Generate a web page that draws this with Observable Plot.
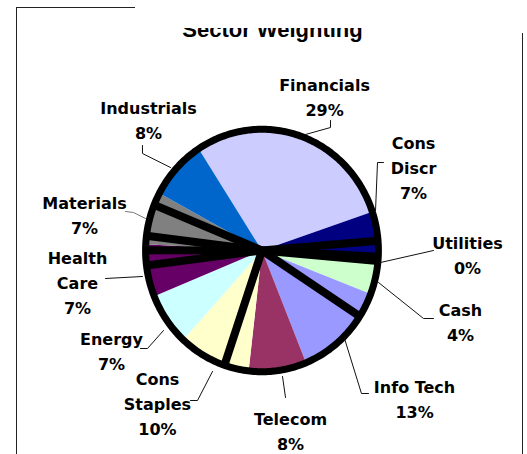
<!DOCTYPE html>
<html>
<head>
<meta charset="utf-8">
<script src="https://cdn.jsdelivr.net/npm/d3@7"></script>
<script src="https://cdn.jsdelivr.net/npm/@observablehq/plot@0.6"></script>
<style>
  html, body { margin: 0; padding: 0; background: #fff; }
  #wrap { position: relative; width: 527px; height: 454px; overflow: hidden; }
  #chart { position: absolute; left: 0; top: 0; }
  .bl { position: absolute; background: #222; }
  #titleClip { position: absolute; left: 0; top: 28px; width: 527px; height: 16px; overflow: hidden; }
  #title { position: absolute; left: 9px; top: -11px; width: 527px; text-align: center;
           font: bold 22px/26px "Liberation Sans", Arial, sans-serif; color: #000; white-space: nowrap; }
</style>
</head>
<body>
<div id="wrap">
  <div id="chart"></div>
  <div id="titleClip"><div id="title">Sector Weighting</div></div>
  <div class="bl" style="left:16px;top:7px;width:1px;height:447px"></div>
  <div class="bl" style="left:16px;top:7px;width:119px;height:1px"></div>
  <div class="bl" style="left:522px;top:33px;width:1px;height:421px"></div>
</div>
<script>
// ---- data ----
const names   = ["Financials","Cons Discr","Utilities","Cash","Info Tech","Telecom","Cons Staples","Energy","Health Care","Materials","Industrials"];
const weights = [29, 7, 0, 4, 13, 8, 10, 7, 7, 7, 8];
const labelLines = [["Financials"],["Cons","Discr"],["Utilities"],["Cash"],["Info Tech"],["Telecom"],["Cons","Staples"],["Energy"],["Health","Care"],["Materials"],["Industrials"]];
const colors  = ["#CCCCFF","#000080","#FF8080","#CCFFCC","#9999FF","#993366","#FFFFCC","#CCFFFF","#660066","#808080","#0066CC"];
// black spokes seen in the picture, as positions along the pie (cumulative %)
const spokes  = [32.9, 35.0, 35.55, 43.3, 64.4, 82.2, 84.2, 86.1, 90.3];

// ---- layout (units of the pie) ----
const startDeg = -33;
const R = 0.97;
const labelPos = [[0.521,1.244],[1.2625,0.68],[1.7125,-0.02],[1.654,-0.556],[1.271,-1.172],[0.2375,-1.432],[-0.871,-1.208],[-1.254,-0.788],[-1.5375,-0.24],[-1.479,0.3],[-0.946,1.06]];
const leaders = [
  [[0.571,1.04],[0.571,0.984],[0.3625,0.928]],
  [[1.0125,0.704],[0.9625,0.704],[0.946,0.32]],
  [[1.429,0],[0.9875,-0.096]],
  [[1.429,-0.544],[1.346,-0.544],[0.971,-0.256]],
  [[0.8875,-1.144],[0.829,-1.144],[0.6875,-0.704]],
  [[0.196,-1.176],[0.171,-1.008]],
  [[-0.596,-1.2],[-0.5375,-1.2],[-0.4125,-0.968]],
  [[-1.0125,-0.784],[-0.954,-0.784],[-0.821,-0.64]],
  [[-1.304,-0.224],[-0.996,-0.208]],
  [[-1.1375,0.312],[-1.071,0.304],[-0.971,0.256]],
  [[-0.996,0.84],[-0.996,0.776],[-0.7625,0.664]]
];

const total = d3.sum(weights);
const toRad = pct => (startDeg + pct / total * 360) * Math.PI / 180;

// slice polygons
const slicePts = [];
let cum = 0;
names.forEach((n, i) => {
  const c0 = cum, c1 = cum + weights[i];
  cum = c1;
  if (weights[i] <= 0) return;
  slicePts.push({name: n, x: 0, y: 0});
  const a0 = toRad(c0), a1 = toRad(c1);
  const steps = Math.max(2, Math.ceil((a1 - a0) / (Math.PI / 360)));
  for (let k = 0; k <= steps; k++) {
    const a = a0 + (a1 - a0) * k / steps;
    slicePts.push({name: n, x: R * Math.sin(a), y: R * Math.cos(a)});
  }
  slicePts.push({name: n, x: 0, y: 0});
});

const spokeData = spokes.map(p => ({x2: R * Math.sin(toRad(p)), y2: R * Math.cos(toRad(p))}));
const ring = d3.range(0, 361, 1).map(d => ({x: R * Math.sin(d * Math.PI / 180), y: R * Math.cos(d * Math.PI / 180)}));

const labelData = names.map((n, i) => ({
  name: n,
  x: labelPos[i][0], y: labelPos[i][1],
  text: [...labelLines[i], Math.round(weights[i] / total * 100) + "%"].join("\n")
}));
const leaderPts = leaders.flatMap((pts, i) => pts.map(p => ({name: names[i], x: p[0], y: p[1]})));

const chart = Plot.plot({
  width: 527, height: 454,
  margin: 0,
  x: {domain: [-261.5 / 120, (527 - 261.5) / 120], axis: null},
  y: {domain: [(250 - 454) / 125, 250 / 125], axis: null},
  color: {domain: names, range: colors},
  style: {background: "transparent", overflow: "visible"},
  marks: [
    Plot.line(slicePts, {x: "x", y: "y", z: "name", fill: "name", stroke: null, curve: "linear-closed"}),
    Plot.link(spokeData, {x1: 0, y1: 0, x2: "x2", y2: "y2", stroke: "#000", strokeWidth: 8, strokeLinecap: "butt"}),
    Plot.line(ring, {x: "x", y: "y", stroke: "#000", strokeWidth: 7, fill: "none"}),
    Plot.line(leaderPts.filter(d => d.name !== "Materials"), {x: "x", y: "y", z: "name", stroke: "#111", strokeWidth: 1}),
    Plot.line(leaderPts.filter(d => d.name === "Materials"), {x: "x", y: "y", z: "name", stroke: "#777", strokeWidth: 1}),
    Plot.text(labelData, {x: "x", y: "y", text: "text", fontSize: 16, fontWeight: "bold",
      fontFamily: "DejaVu Sans", lineHeight: 1.5625, fill: "#000"})
  ]
});
document.getElementById("chart").appendChild(chart);
</script>
</body>
</html>
